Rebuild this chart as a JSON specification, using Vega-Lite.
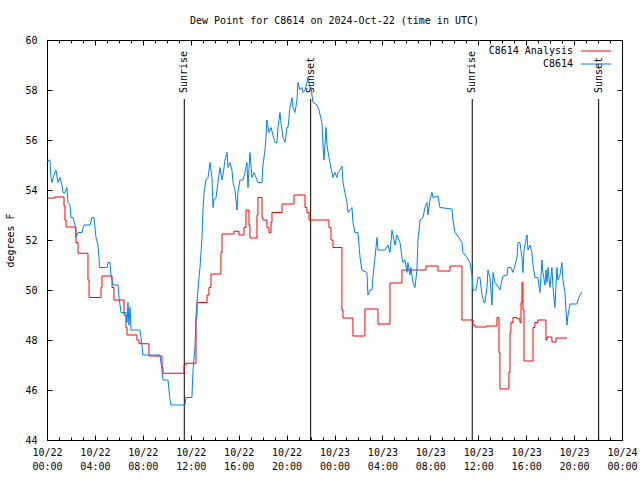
{
  "$schema": "https://vega.github.io/schema/vega-lite/v6.json",
  "width": 575,
  "height": 400,
  "autosize": {"type": "none"},
  "padding": {"left": 47, "top": 40, "right": 18, "bottom": 40},
  "background": "white",
  "title": {"text": "Dew Point for C8614 on 2024-Oct-22 (time in UTC)", "font": "DejaVu Sans Mono", "fontSize": 10, "fontWeight": "normal", "color": "black", "offset": 9, "frame": "group", "anchor": "middle"},
  "config": {
    "view": {"stroke": "black", "strokeWidth": 1},
    "font": "DejaVu Sans Mono",
    "axis": {"domain": false, "grid": false, "tickColor": "black", "labelColor": "black", "labelFont": "DejaVu Sans Mono", "labelFontSize": 10, "titleFont": "DejaVu Sans Mono", "titleFontSize": 10, "titleFontWeight": "normal", "titleColor": "black", "labelFlush": false, "labelOverlap": false},
    "legend": {"orient": "none", "legendX": 544, "legendY": 6, "title": null, "symbolType": "M-5,0H5", "symbolSize": 36, "symbolStrokeWidth": 1, "labelAlign": "right", "labelOffset": -28, "labelFont": "DejaVu Sans Mono", "labelFontSize": 10, "labelColor": "black", "rowPadding": 3, "padding": 0}
  },
  "datasets": {
    "sun": [
      {"hour": 11.46, "label": "Sunrise"},
      {"hour": 22.01, "label": "Sunset"},
      {"hour": 35.50, "label": "Sunrise"},
      {"hour": 46.05, "label": "Sunset"}
    ],
    "analysis": [
      {"hour": 0, "value": 53.68, "series": "C8614 Analysis"},
      {"hour": 0.67, "value": 53.72, "series": "C8614 Analysis"},
      {"hour": 1.42, "value": 53.36, "series": "C8614 Analysis"},
      {"hour": 1.50, "value": 52.8, "series": "C8614 Analysis"},
      {"hour": 1.59, "value": 52.52, "series": "C8614 Analysis"},
      {"hour": 2.42, "value": 51.9, "series": "C8614 Analysis"},
      {"hour": 2.59, "value": 51.47, "series": "C8614 Analysis"},
      {"hour": 3.42, "value": 50.4, "series": "C8614 Analysis"},
      {"hour": 3.51, "value": 49.7, "series": "C8614 Analysis"},
      {"hour": 4.51, "value": 50.1, "series": "C8614 Analysis"},
      {"hour": 4.59, "value": 50.56, "series": "C8614 Analysis"},
      {"hour": 5.43, "value": 50.1, "series": "C8614 Analysis"},
      {"hour": 5.59, "value": 49.6, "series": "C8614 Analysis"},
      {"hour": 6.43, "value": 49.0, "series": "C8614 Analysis"},
      {"hour": 6.59, "value": 48.5, "series": "C8614 Analysis"},
      {"hour": 6.68, "value": 48.2, "series": "C8614 Analysis"},
      {"hour": 7.51, "value": 48.0, "series": "C8614 Analysis"},
      {"hour": 7.68, "value": 47.85, "series": "C8614 Analysis"},
      {"hour": 8.51, "value": 47.36, "series": "C8614 Analysis"},
      {"hour": 9.60, "value": 46.9, "series": "C8614 Analysis"},
      {"hour": 9.68, "value": 46.67, "series": "C8614 Analysis"},
      {"hour": 11.44, "value": 47.0, "series": "C8614 Analysis"},
      {"hour": 11.60, "value": 47.07, "series": "C8614 Analysis"},
      {"hour": 12.44, "value": 48.9, "series": "C8614 Analysis"},
      {"hour": 12.52, "value": 49.5, "series": "C8614 Analysis"},
      {"hour": 13.36, "value": 49.8, "series": "C8614 Analysis"},
      {"hour": 13.52, "value": 50.1, "series": "C8614 Analysis"},
      {"hour": 13.69, "value": 50.64, "series": "C8614 Analysis"},
      {"hour": 14.52, "value": 51.5, "series": "C8614 Analysis"},
      {"hour": 14.61, "value": 52.24, "series": "C8614 Analysis"},
      {"hour": 15.61, "value": 52.35, "series": "C8614 Analysis"},
      {"hour": 16.03, "value": 52.2, "series": "C8614 Analysis"},
      {"hour": 16.44, "value": 52.5, "series": "C8614 Analysis"},
      {"hour": 16.61, "value": 53.2, "series": "C8614 Analysis"},
      {"hour": 16.86, "value": 52.6, "series": "C8614 Analysis"},
      {"hour": 16.94, "value": 52.08, "series": "C8614 Analysis"},
      {"hour": 17.53, "value": 53.0, "series": "C8614 Analysis"},
      {"hour": 17.61, "value": 53.7, "series": "C8614 Analysis"},
      {"hour": 17.95, "value": 52.9, "series": "C8614 Analysis"},
      {"hour": 18.03, "value": 52.8, "series": "C8614 Analysis"},
      {"hour": 18.36, "value": 52.5, "series": "C8614 Analysis"},
      {"hour": 18.53, "value": 52.3, "series": "C8614 Analysis"},
      {"hour": 18.70, "value": 52.7, "series": "C8614 Analysis"},
      {"hour": 18.78, "value": 53.1, "series": "C8614 Analysis"},
      {"hour": 19.62, "value": 53.44, "series": "C8614 Analysis"},
      {"hour": 20.62, "value": 53.8, "series": "C8614 Analysis"},
      {"hour": 21.54, "value": 53.3, "series": "C8614 Analysis"},
      {"hour": 21.70, "value": 53.1, "series": "C8614 Analysis"},
      {"hour": 21.87, "value": 52.8, "series": "C8614 Analysis"},
      {"hour": 23.54, "value": 52.5, "series": "C8614 Analysis"},
      {"hour": 23.71, "value": 52.0, "series": "C8614 Analysis"},
      {"hour": 23.87, "value": 51.7, "series": "C8614 Analysis"},
      {"hour": 24.62, "value": 49.2, "series": "C8614 Analysis"},
      {"hour": 24.71, "value": 48.88, "series": "C8614 Analysis"},
      {"hour": 25.54, "value": 48.16, "series": "C8614 Analysis"},
      {"hour": 26.54, "value": 49.24, "series": "C8614 Analysis"},
      {"hour": 27.63, "value": 48.64, "series": "C8614 Analysis"},
      {"hour": 28.63, "value": 50.28, "series": "C8614 Analysis"},
      {"hour": 29.63, "value": 50.8, "series": "C8614 Analysis"},
      {"hour": 31.64, "value": 50.96, "series": "C8614 Analysis"},
      {"hour": 32.64, "value": 50.76, "series": "C8614 Analysis"},
      {"hour": 33.64, "value": 50.96, "series": "C8614 Analysis"},
      {"hour": 34.64, "value": 48.8, "series": "C8614 Analysis"},
      {"hour": 35.56, "value": 48.6, "series": "C8614 Analysis"},
      {"hour": 35.73, "value": 48.52, "series": "C8614 Analysis"},
      {"hour": 36.64, "value": 48.56, "series": "C8614 Analysis"},
      {"hour": 37.56, "value": 48.9, "series": "C8614 Analysis"},
      {"hour": 37.73, "value": 47.5, "series": "C8614 Analysis"},
      {"hour": 37.81, "value": 46.04, "series": "C8614 Analysis"},
      {"hour": 38.56, "value": 46.7, "series": "C8614 Analysis"},
      {"hour": 38.65, "value": 48.3, "series": "C8614 Analysis"},
      {"hour": 38.73, "value": 48.7, "series": "C8614 Analysis"},
      {"hour": 38.90, "value": 48.9, "series": "C8614 Analysis"},
      {"hour": 39.23, "value": 48.85, "series": "C8614 Analysis"},
      {"hour": 39.48, "value": 48.7, "series": "C8614 Analysis"},
      {"hour": 39.57, "value": 49.5, "series": "C8614 Analysis"},
      {"hour": 39.65, "value": 50.3, "series": "C8614 Analysis"},
      {"hour": 39.73, "value": 49.2, "series": "C8614 Analysis"},
      {"hour": 39.82, "value": 47.16, "series": "C8614 Analysis"},
      {"hour": 40.57, "value": 48.5, "series": "C8614 Analysis"},
      {"hour": 40.73, "value": 48.7, "series": "C8614 Analysis"},
      {"hour": 40.98, "value": 48.8, "series": "C8614 Analysis"},
      {"hour": 41.65, "value": 48.0, "series": "C8614 Analysis"},
      {"hour": 41.74, "value": 48.12, "series": "C8614 Analysis"},
      {"hour": 42.15, "value": 47.92, "series": "C8614 Analysis"},
      {"hour": 42.49, "value": 48.08, "series": "C8614 Analysis"},
      {"hour": 43.41, "value": 48.08, "series": "C8614 Analysis"}
    ],
    "station": [
      {"hour": 0, "value": 55.1, "series": "C8614"},
      {"hour": 0.17, "value": 55.2, "series": "C8614"},
      {"hour": 0.25, "value": 55.2, "series": "C8614"},
      {"hour": 0.33, "value": 54.5, "series": "C8614"},
      {"hour": 0.42, "value": 54.3, "series": "C8614"},
      {"hour": 0.58, "value": 54.6, "series": "C8614"},
      {"hour": 0.75, "value": 54.8, "series": "C8614"},
      {"hour": 0.92, "value": 54.3, "series": "C8614"},
      {"hour": 1.09, "value": 54.5, "series": "C8614"},
      {"hour": 1.25, "value": 54.2, "series": "C8614"},
      {"hour": 1.34, "value": 53.9, "series": "C8614"},
      {"hour": 1.50, "value": 53.9, "series": "C8614"},
      {"hour": 1.67, "value": 54.1, "series": "C8614"},
      {"hour": 1.75, "value": 53.5, "series": "C8614"},
      {"hour": 1.92, "value": 53.4, "series": "C8614"},
      {"hour": 2.00, "value": 52.9, "series": "C8614"},
      {"hour": 2.17, "value": 52.9, "series": "C8614"},
      {"hour": 2.34, "value": 52.6, "series": "C8614"},
      {"hour": 2.42, "value": 52.1, "series": "C8614"},
      {"hour": 2.59, "value": 52.3, "series": "C8614"},
      {"hour": 2.92, "value": 52.3, "series": "C8614"},
      {"hour": 3.09, "value": 52.6, "series": "C8614"},
      {"hour": 3.59, "value": 52.6, "series": "C8614"},
      {"hour": 3.76, "value": 52.9, "series": "C8614"},
      {"hour": 3.92, "value": 52.9, "series": "C8614"},
      {"hour": 4.09, "value": 52.1, "series": "C8614"},
      {"hour": 4.26, "value": 51.8, "series": "C8614"},
      {"hour": 4.34, "value": 51.3, "series": "C8614"},
      {"hour": 4.38, "value": 50.9, "series": "C8614"},
      {"hour": 5.01, "value": 50.9, "series": "C8614"},
      {"hour": 5.09, "value": 51.1, "series": "C8614"},
      {"hour": 5.26, "value": 51.1, "series": "C8614"},
      {"hour": 5.34, "value": 50.6, "series": "C8614"},
      {"hour": 5.51, "value": 50.2, "series": "C8614"},
      {"hour": 5.93, "value": 50.2, "series": "C8614"},
      {"hour": 6.01, "value": 49.7, "series": "C8614"},
      {"hour": 6.18, "value": 49.1, "series": "C8614"},
      {"hour": 6.59, "value": 49.1, "series": "C8614"},
      {"hour": 6.68, "value": 48.7, "series": "C8614"},
      {"hour": 6.76, "value": 49.5, "series": "C8614"},
      {"hour": 6.84, "value": 48.6, "series": "C8614"},
      {"hour": 6.93, "value": 49.3, "series": "C8614"},
      {"hour": 7.01, "value": 48.4, "series": "C8614"},
      {"hour": 7.76, "value": 48.4, "series": "C8614"},
      {"hour": 7.93, "value": 47.8, "series": "C8614"},
      {"hour": 8.01, "value": 47.4, "series": "C8614"},
      {"hour": 9.43, "value": 47.4, "series": "C8614"},
      {"hour": 9.60, "value": 46.8, "series": "C8614"},
      {"hour": 9.68, "value": 46.4, "series": "C8614"},
      {"hour": 10.10, "value": 46.4, "series": "C8614"},
      {"hour": 10.27, "value": 45.6, "series": "C8614"},
      {"hour": 10.35, "value": 45.4, "series": "C8614"},
      {"hour": 11.52, "value": 45.4, "series": "C8614"},
      {"hour": 11.60, "value": 45.7, "series": "C8614"},
      {"hour": 12.10, "value": 45.7, "series": "C8614"},
      {"hour": 12.19, "value": 46.8, "series": "C8614"},
      {"hour": 12.35, "value": 47.7, "series": "C8614"},
      {"hour": 12.44, "value": 48.9, "series": "C8614"},
      {"hour": 12.60, "value": 50.0, "series": "C8614"},
      {"hour": 12.77, "value": 50.9, "series": "C8614"},
      {"hour": 12.94, "value": 52.1, "series": "C8614"},
      {"hour": 13.02, "value": 53.2, "series": "C8614"},
      {"hour": 13.11, "value": 53.9, "series": "C8614"},
      {"hour": 13.27, "value": 54.4, "series": "C8614"},
      {"hour": 13.44, "value": 54.5, "series": "C8614"},
      {"hour": 13.61, "value": 55.1, "series": "C8614"},
      {"hour": 13.77, "value": 54.5, "series": "C8614"},
      {"hour": 13.86, "value": 53.3, "series": "C8614"},
      {"hour": 13.94, "value": 53.6, "series": "C8614"},
      {"hour": 14.11, "value": 53.7, "series": "C8614"},
      {"hour": 14.27, "value": 54.3, "series": "C8614"},
      {"hour": 14.44, "value": 54.9, "series": "C8614"},
      {"hour": 14.61, "value": 54.4, "series": "C8614"},
      {"hour": 14.69, "value": 54.6, "series": "C8614"},
      {"hour": 14.86, "value": 55.2, "series": "C8614"},
      {"hour": 15.03, "value": 55.5, "series": "C8614"},
      {"hour": 15.11, "value": 54.9, "series": "C8614"},
      {"hour": 15.28, "value": 55.1, "series": "C8614"},
      {"hour": 15.44, "value": 54.8, "series": "C8614"},
      {"hour": 15.53, "value": 54.3, "series": "C8614"},
      {"hour": 15.69, "value": 54.0, "series": "C8614"},
      {"hour": 15.86, "value": 53.2, "series": "C8614"},
      {"hour": 15.94, "value": 53.9, "series": "C8614"},
      {"hour": 16.11, "value": 54.4, "series": "C8614"},
      {"hour": 16.36, "value": 54.4, "series": "C8614"},
      {"hour": 16.53, "value": 54.7, "series": "C8614"},
      {"hour": 16.69, "value": 55.1, "series": "C8614"},
      {"hour": 16.78, "value": 54.1, "series": "C8614"},
      {"hour": 16.94, "value": 55.5, "series": "C8614"},
      {"hour": 17.11, "value": 54.5, "series": "C8614"},
      {"hour": 17.28, "value": 54.7, "series": "C8614"},
      {"hour": 17.45, "value": 54.5, "series": "C8614"},
      {"hour": 17.61, "value": 54.3, "series": "C8614"},
      {"hour": 17.95, "value": 54.3, "series": "C8614"},
      {"hour": 18.03, "value": 55.0, "series": "C8614"},
      {"hour": 18.20, "value": 55.6, "series": "C8614"},
      {"hour": 18.28, "value": 56.1, "series": "C8614"},
      {"hour": 18.36, "value": 56.8, "series": "C8614"},
      {"hour": 18.53, "value": 56.3, "series": "C8614"},
      {"hour": 18.70, "value": 56.5, "series": "C8614"},
      {"hour": 18.86, "value": 56.2, "series": "C8614"},
      {"hour": 19.03, "value": 55.9, "series": "C8614"},
      {"hour": 19.20, "value": 55.9, "series": "C8614"},
      {"hour": 19.28, "value": 56.5, "series": "C8614"},
      {"hour": 19.45, "value": 57.1, "series": "C8614"},
      {"hour": 19.53, "value": 56.7, "series": "C8614"},
      {"hour": 19.70, "value": 56.1, "series": "C8614"},
      {"hour": 19.87, "value": 55.9, "series": "C8614"},
      {"hour": 20.03, "value": 56.5, "series": "C8614"},
      {"hour": 20.12, "value": 56.5, "series": "C8614"},
      {"hour": 20.28, "value": 57.3, "series": "C8614"},
      {"hour": 20.45, "value": 57.7, "series": "C8614"},
      {"hour": 20.53, "value": 57.3, "series": "C8614"},
      {"hour": 20.70, "value": 57.1, "series": "C8614"},
      {"hour": 20.87, "value": 57.6, "series": "C8614"},
      {"hour": 20.95, "value": 58.3, "series": "C8614"},
      {"hour": 21.12, "value": 58.0, "series": "C8614"},
      {"hour": 21.29, "value": 58.1, "series": "C8614"},
      {"hour": 21.37, "value": 57.9, "series": "C8614"},
      {"hour": 21.54, "value": 58.0, "series": "C8614"},
      {"hour": 21.70, "value": 58.3, "series": "C8614"},
      {"hour": 21.79, "value": 58.5, "series": "C8614"},
      {"hour": 21.95, "value": 58.1, "series": "C8614"},
      {"hour": 22.04, "value": 58.1, "series": "C8614"},
      {"hour": 22.20, "value": 57.5, "series": "C8614"},
      {"hour": 22.54, "value": 57.4, "series": "C8614"},
      {"hour": 22.70, "value": 57.2, "series": "C8614"},
      {"hour": 22.95, "value": 56.7, "series": "C8614"},
      {"hour": 23.04, "value": 55.8, "series": "C8614"},
      {"hour": 23.12, "value": 55.2, "series": "C8614"},
      {"hour": 23.29, "value": 56.5, "series": "C8614"},
      {"hour": 23.37, "value": 55.8, "series": "C8614"},
      {"hour": 23.54, "value": 55.3, "series": "C8614"},
      {"hour": 23.79, "value": 54.7, "series": "C8614"},
      {"hour": 23.87, "value": 54.5, "series": "C8614"},
      {"hour": 24.04, "value": 54.7, "series": "C8614"},
      {"hour": 24.21, "value": 54.5, "series": "C8614"},
      {"hour": 24.29, "value": 54.7, "series": "C8614"},
      {"hour": 24.46, "value": 54.8, "series": "C8614"},
      {"hour": 24.62, "value": 54.96, "series": "C8614"},
      {"hour": 24.71, "value": 54.3, "series": "C8614"},
      {"hour": 24.87, "value": 53.9, "series": "C8614"},
      {"hour": 25.04, "value": 53.5, "series": "C8614"},
      {"hour": 25.13, "value": 53.1, "series": "C8614"},
      {"hour": 25.29, "value": 53.2, "series": "C8614"},
      {"hour": 25.46, "value": 53.3, "series": "C8614"},
      {"hour": 25.54, "value": 52.7, "series": "C8614"},
      {"hour": 25.71, "value": 52.3, "series": "C8614"},
      {"hour": 25.96, "value": 52.3, "series": "C8614"},
      {"hour": 26.13, "value": 51.3, "series": "C8614"},
      {"hour": 26.29, "value": 50.8, "series": "C8614"},
      {"hour": 26.71, "value": 50.7, "series": "C8614"},
      {"hour": 26.79, "value": 49.8, "series": "C8614"},
      {"hour": 26.96, "value": 50.0, "series": "C8614"},
      {"hour": 27.13, "value": 50.0, "series": "C8614"},
      {"hour": 27.21, "value": 50.5, "series": "C8614"},
      {"hour": 27.38, "value": 51.3, "series": "C8614"},
      {"hour": 27.55, "value": 52.1, "series": "C8614"},
      {"hour": 27.63, "value": 51.6, "series": "C8614"},
      {"hour": 28.21, "value": 51.6, "series": "C8614"},
      {"hour": 28.46, "value": 51.8, "series": "C8614"},
      {"hour": 28.63, "value": 51.5, "series": "C8614"},
      {"hour": 28.80, "value": 52.4, "series": "C8614"},
      {"hour": 28.88, "value": 52.2, "series": "C8614"},
      {"hour": 29.05, "value": 51.8, "series": "C8614"},
      {"hour": 29.22, "value": 52.2, "series": "C8614"},
      {"hour": 29.30, "value": 52.1, "series": "C8614"},
      {"hour": 29.47, "value": 51.9, "series": "C8614"},
      {"hour": 29.63, "value": 51.3, "series": "C8614"},
      {"hour": 29.72, "value": 51.1, "series": "C8614"},
      {"hour": 29.88, "value": 51.2, "series": "C8614"},
      {"hour": 30.05, "value": 50.7, "series": "C8614"},
      {"hour": 30.13, "value": 51.1, "series": "C8614"},
      {"hour": 30.30, "value": 50.6, "series": "C8614"},
      {"hour": 30.38, "value": 50.9, "series": "C8614"},
      {"hour": 30.55, "value": 50.3, "series": "C8614"},
      {"hour": 30.72, "value": 50.1, "series": "C8614"},
      {"hour": 30.88, "value": 50.8, "series": "C8614"},
      {"hour": 30.97, "value": 52.0, "series": "C8614"},
      {"hour": 31.14, "value": 52.8, "series": "C8614"},
      {"hour": 31.39, "value": 52.9, "series": "C8614"},
      {"hour": 31.55, "value": 53.3, "series": "C8614"},
      {"hour": 31.72, "value": 53.5, "series": "C8614"},
      {"hour": 31.80, "value": 53.0, "series": "C8614"},
      {"hour": 31.97, "value": 53.6, "series": "C8614"},
      {"hour": 32.14, "value": 53.9, "series": "C8614"},
      {"hour": 32.22, "value": 53.7, "series": "C8614"},
      {"hour": 32.64, "value": 53.76, "series": "C8614"},
      {"hour": 32.80, "value": 53.3, "series": "C8614"},
      {"hour": 33.81, "value": 53.24, "series": "C8614"},
      {"hour": 33.89, "value": 52.8, "series": "C8614"},
      {"hour": 34.06, "value": 52.3, "series": "C8614"},
      {"hour": 34.22, "value": 52.2, "series": "C8614"},
      {"hour": 34.39, "value": 52.1, "series": "C8614"},
      {"hour": 34.64, "value": 51.9, "series": "C8614"},
      {"hour": 34.72, "value": 51.5, "series": "C8614"},
      {"hour": 35.06, "value": 51.3, "series": "C8614"},
      {"hour": 35.31, "value": 51.1, "series": "C8614"},
      {"hour": 35.48, "value": 50.6, "series": "C8614"},
      {"hour": 35.56, "value": 50.0, "series": "C8614"},
      {"hour": 35.81, "value": 50.0, "series": "C8614"},
      {"hour": 35.98, "value": 50.5, "series": "C8614"},
      {"hour": 36.14, "value": 50.5, "series": "C8614"},
      {"hour": 36.31, "value": 49.8, "series": "C8614"},
      {"hour": 36.48, "value": 49.5, "series": "C8614"},
      {"hour": 36.56, "value": 49.5, "series": "C8614"},
      {"hour": 36.73, "value": 50.1, "series": "C8614"},
      {"hour": 36.81, "value": 50.8, "series": "C8614"},
      {"hour": 36.98, "value": 50.5, "series": "C8614"},
      {"hour": 37.15, "value": 49.4, "series": "C8614"},
      {"hour": 37.23, "value": 50.7, "series": "C8614"},
      {"hour": 37.40, "value": 50.3, "series": "C8614"},
      {"hour": 37.56, "value": 50.2, "series": "C8614"},
      {"hour": 37.81, "value": 50.0, "series": "C8614"},
      {"hour": 37.98, "value": 50.4, "series": "C8614"},
      {"hour": 38.06, "value": 50.56, "series": "C8614"},
      {"hour": 38.40, "value": 50.6, "series": "C8614"},
      {"hour": 38.48, "value": 50.9, "series": "C8614"},
      {"hour": 38.73, "value": 50.9, "series": "C8614"},
      {"hour": 38.90, "value": 50.7, "series": "C8614"},
      {"hour": 39.07, "value": 51.0, "series": "C8614"},
      {"hour": 39.23, "value": 51.3, "series": "C8614"},
      {"hour": 39.32, "value": 51.9, "series": "C8614"},
      {"hour": 39.48, "value": 51.9, "series": "C8614"},
      {"hour": 39.65, "value": 51.3, "series": "C8614"},
      {"hour": 39.73, "value": 50.7, "series": "C8614"},
      {"hour": 39.82, "value": 51.6, "series": "C8614"},
      {"hour": 39.90, "value": 51.8, "series": "C8614"},
      {"hour": 40.07, "value": 52.2, "series": "C8614"},
      {"hour": 40.15, "value": 51.6, "series": "C8614"},
      {"hour": 40.32, "value": 51.8, "series": "C8614"},
      {"hour": 40.48, "value": 51.5, "series": "C8614"},
      {"hour": 40.57, "value": 51.0, "series": "C8614"},
      {"hour": 40.73, "value": 50.5, "series": "C8614"},
      {"hour": 40.98, "value": 50.5, "series": "C8614"},
      {"hour": 41.15, "value": 49.9, "series": "C8614"},
      {"hour": 41.32, "value": 51.2, "series": "C8614"},
      {"hour": 41.40, "value": 50.7, "series": "C8614"},
      {"hour": 41.57, "value": 50.2, "series": "C8614"},
      {"hour": 41.65, "value": 50.8, "series": "C8614"},
      {"hour": 41.74, "value": 50.3, "series": "C8614"},
      {"hour": 41.82, "value": 50.9, "series": "C8614"},
      {"hour": 41.99, "value": 50.1, "series": "C8614"},
      {"hour": 42.15, "value": 50.9, "series": "C8614"},
      {"hour": 42.24, "value": 50.1, "series": "C8614"},
      {"hour": 42.40, "value": 49.3, "series": "C8614"},
      {"hour": 42.57, "value": 50.9, "series": "C8614"},
      {"hour": 42.65, "value": 50.4, "series": "C8614"},
      {"hour": 42.82, "value": 50.6, "series": "C8614"},
      {"hour": 42.99, "value": 51.1, "series": "C8614"},
      {"hour": 43.07, "value": 50.4, "series": "C8614"},
      {"hour": 43.24, "value": 49.9, "series": "C8614"},
      {"hour": 43.32, "value": 49.2, "series": "C8614"},
      {"hour": 43.41, "value": 48.6, "series": "C8614"},
      {"hour": 43.49, "value": 49.0, "series": "C8614"},
      {"hour": 43.66, "value": 49.44, "series": "C8614"},
      {"hour": 44.24, "value": 49.44, "series": "C8614"},
      {"hour": 44.32, "value": 49.6, "series": "C8614"},
      {"hour": 44.49, "value": 49.8, "series": "C8614"},
      {"hour": 44.66, "value": 49.92, "series": "C8614"}
    ]
  },
  "layer": [
    {
      "data": {"name": "sun"},
      "mark": {"type": "rule", "color": "black", "strokeWidth": 1},
      "encoding": {
        "x": {"field": "hour", "type": "quantitative", "scale": {"domain": [0, 48], "nice": false, "zero": false},
          "axis": {"orient": "bottom", "values": [0, 4, 8, 12, 16, 20, 24, 28, 32, 36, 40, 44, 48], "tickSize": -5, "labelPadding": 12, "labelBaseline": "top", "labelLineHeight": 14, "labelAngle": 0, "title": null,
            "labelExpr": "[datum.value < 24 ? '10/22' : (datum.value < 48 ? '10/23' : '10/24'), (datum.value % 24 < 10 ? '0' : '') + (datum.value % 24) + ':00']"}},
        "y": {"datum": 44, "type": "quantitative", "scale": {"domain": [44, 60], "nice": false, "zero": false},
          "axis": {"orient": "left", "values": [44, 46, 48, 50, 52, 54, 56, 58, 60], "tickSize": -5, "labelPadding": 15, "title": "degrees F", "titlePadding": 9}},
        "y2": {"datum": 57.64}
      }
    },
    {
      "data": {"name": "sun"},
      "mark": {"type": "text", "angle": 270, "align": "left", "baseline": "middle", "font": "DejaVu Sans Mono", "fontSize": 10, "color": "black"},
      "encoding": {
        "x": {"field": "hour", "type": "quantitative",
          "axis": {"orient": "top", "values": [0, 4, 8, 12, 16, 20, 24, 28, 32, 36, 40, 44, 48], "tickSize": -5, "labels": false, "title": null}},
        "y": {"datum": 57.88, "type": "quantitative",
          "axis": {"orient": "right", "values": [44, 46, 48, 50, 52, 54, 56, 58, 60], "tickSize": -5, "labels": false, "title": null}},
        "text": {"field": "label"}
      }
    },
    {
      "data": {"name": "analysis"},
      "mark": {"type": "line", "interpolate": "step-after", "strokeWidth": 1},
      "encoding": {
        "x": {"field": "hour", "type": "quantitative",
          "axis": {"orient": "bottom", "values": [0,1,2,3,4,5,6,7,8,9,10,11,12,13,14,15,16,17,18,19,20,21,22,23,24,25,26,27,28,29,30,31,32,33,34,35,36,37,38,39,40,41,42,43,44,45,46,47,48], "tickSize": -3, "labels": false, "title": null}},
        "y": {"field": "value", "type": "quantitative", "axis": null},
        "stroke": {"field": "series", "type": "nominal",
          "scale": {"domain": ["C8614 Analysis", "C8614"], "range": ["#ff0000", "#0080ff"]}}
      }
    },
    {
      "data": {"name": "station"},
      "mark": {"type": "line", "strokeWidth": 1},
      "encoding": {
        "x": {"field": "hour", "type": "quantitative",
          "axis": {"orient": "top", "values": [0,1,2,3,4,5,6,7,8,9,10,11,12,13,14,15,16,17,18,19,20,21,22,23,24,25,26,27,28,29,30,31,32,33,34,35,36,37,38,39,40,41,42,43,44,45,46,47,48], "tickSize": -3, "labels": false, "title": null}},
        "y": {"field": "value", "type": "quantitative", "axis": null},
        "stroke": {"field": "series", "type": "nominal"}
      }
    }
  ],
  "resolve": {"axis": {"x": "independent", "y": "independent"}}
}
